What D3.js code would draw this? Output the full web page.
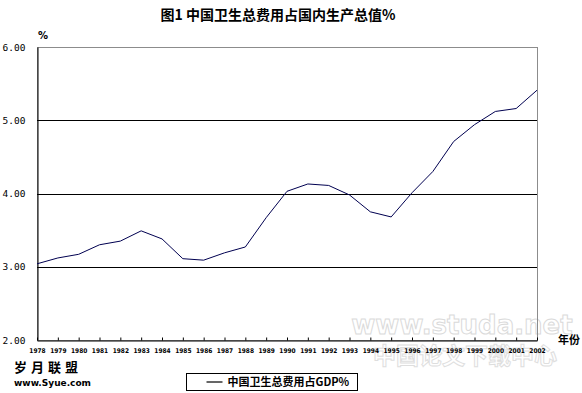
<!DOCTYPE html>
<html>
<head>
<meta charset="utf-8">
<script src="https://cdn.jsdelivr.net/npm/d3@7"></script>
<style>
  body { margin: 0; background: #fff; }
  svg { display: block; }
</style>
</head>
<body>
<svg id="chart" width="582" height="393"></svg>
<script>
// Data
const years = ["1978","1979","1980","1981","1982","1983","1984","1985","1986","1987","1988","1989",
               "1990","1991","1992","1993","1994","1995","1996","1997","1998","1999","2000","2001","2002"];
const values = [3.04, 3.12, 3.17, 3.30, 3.35, 3.49, 3.38, 3.11, 3.09, 3.19, 3.27, 3.67,
                4.03, 4.13, 4.11, 3.98, 3.75, 3.68, 4.01, 4.30, 4.71, 4.94, 5.12, 5.16, 5.41];
const yTicks = [2, 3, 4, 5, 6];
const title = "图1  中国卫生总费用占国内生产总值%";
const seriesName = "中国卫生总费用占GDP%";

const margin = { top: 47, right: 45, bottom: 53, left: 37 };
const width = 582, height = 393;

const $svg = d3.select("#chart");

const x = d3.scalePoint()
    .domain(years)
    .range([margin.left, width - margin.right]);

const y = d3.scaleLinear()
    .domain([2, 6])
    .range([height - margin.bottom, margin.top]);

// Title
$svg.append("text")
    .attr("x", 278).attr("y", 20)
    .attr("text-anchor", "middle")
    .attr("font-family", "'Noto Sans CJK SC', sans-serif")
    .attr("font-weight", "bold")
    .attr("font-size", 14)
    .text(title);

// Watermarks (faint)
$svg.append("text")
    .attr("x", 462).attr("y", 334)
    .attr("text-anchor", "middle")
    .attr("font-family", "'DejaVu Sans', sans-serif")
    .attr("font-weight", "bold")
    .attr("font-size", 26)
    .attr("fill", "#fff").attr("stroke", "#dadada").attr("stroke-width", 1)
    .text("www.studa.net");
$svg.append("text")
    .attr("x", 465).attr("y", 364)
    .attr("text-anchor", "middle")
    .attr("font-family", "'Noto Sans CJK SC', sans-serif")
    .attr("font-weight", "bold")
    .attr("font-size", 23)
    .attr("fill", "#fff").attr("stroke", "#dedede").attr("stroke-width", 1)
    .text("中国论文下载中心");

// Frame (top/right gray)
$svg.append("rect")
    .attr("x", margin.left + 0.5).attr("y", margin.top + 0.5)
    .attr("width", width - margin.right - margin.left)
    .attr("height", height - margin.bottom - margin.top)
    .attr("fill", "none")
    .attr("stroke", "#8c8c8c");

// Gridlines
$svg.append("g")
  .selectAll("line")
  .data(yTicks.filter(d => d > 2 && d < 6))
  .join("line")
    .attr("x1", margin.left).attr("x2", width - margin.right)
    .attr("y1", d => Math.round(y(d)) + 0.5).attr("y2", d => Math.round(y(d)) + 0.5)
    .attr("stroke", "#000");

// Y axis
const yAxis = d3.axisLeft(y).tickValues(yTicks).tickSize(0)
    .tickFormat(d3.format(".2f"));
const $yAxis = $svg.append("g")
    .attr("transform", `translate(${margin.left + 0.5},0)`)
    .call(yAxis);
$yAxis.select(".domain").attr("stroke", "#000");
$yAxis.selectAll("text")
    .attr("text-anchor", "start")
    .attr("x", -margin.left + 2)
    .attr("font-family", "'DejaVu Sans Mono', monospace")
    .attr("font-size", 9.5)
    .attr("fill", "#000");

// X axis
const xAxis = d3.axisBottom(x).tickSizeInner(-3).tickSizeOuter(0).tickPadding(8);
const $xAxis = $svg.append("g")
    .attr("transform", `translate(0,${height - margin.bottom + 0.5})`)
    .call(xAxis);
$xAxis.select(".domain").attr("stroke", "#000");
$xAxis.selectAll("line").attr("stroke", "#000");
$xAxis.selectAll("text")
    .attr("font-family", "'DejaVu Sans Condensed', sans-serif")
    .attr("font-weight", "bold")
    .attr("font-size", 6.5)
    .attr("fill", "#000");

// Axis titles
$svg.append("text")
    .attr("x", 38).attr("y", 39)
    .attr("font-family", "'DejaVu Sans', sans-serif")
    .attr("font-weight", "bold")
    .attr("font-size", 10)
    .text("%");
$svg.append("text")
    .attr("x", 558).attr("y", 344)
    .attr("font-family", "'Noto Sans CJK SC', sans-serif")
    .attr("font-weight", "bold")
    .attr("font-size", 11)
    .text("年份");

// Series line
const line = d3.line()
    .x((d, i) => x(years[i]))
    .y(d => y(d));
$svg.append("path")
    .datum(values)
    .attr("d", line)
    .attr("fill", "none")
    .attr("stroke", "#000050")
    .attr("stroke-width", 1);

// Legend
const $legend = $svg.append("g").attr("transform", "translate(186.5,373.5)");
$legend.append("rect")
    .attr("width", 171).attr("height", 17)
    .attr("fill", "#fff").attr("stroke", "#000");
$legend.append("line")
    .attr("x1", 20).attr("x2", 36).attr("y1", 8.5).attr("y2", 8.5)
    .attr("stroke", "#000").attr("stroke-width", 1.2);
$legend.append("text")
    .attr("x", 41).attr("y", 12.5)
    .attr("font-family", "'Noto Sans CJK SC', sans-serif")
    .attr("font-weight", "bold")
    .attr("font-size", 11)
    .text(seriesName);

// Site mark bottom-left
$svg.append("text")
    .attr("x", 14).attr("y", 372)
    .attr("font-family", "'Noto Sans CJK SC', sans-serif")
    .attr("font-weight", "bold")
    .attr("font-size", 13)
    .attr("letter-spacing", 4)
    .text("岁月联盟");
$svg.append("text")
    .attr("x", 14).attr("y", 386)
    .attr("font-family", "'DejaVu Sans', sans-serif")
    .attr("font-weight", "bold")
    .attr("font-size", 9)
    .text("www.Syue.com");
</script>
</body>
</html>
